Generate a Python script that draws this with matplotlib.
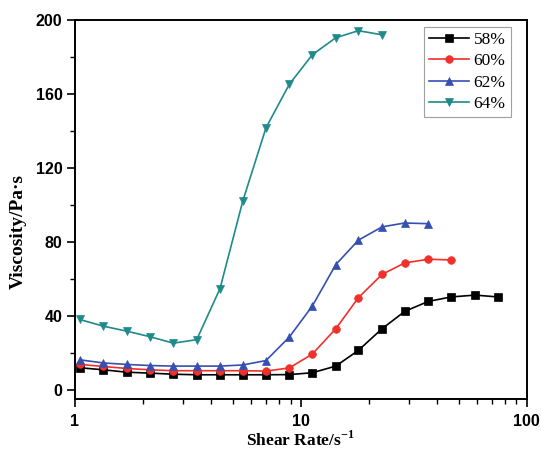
import matplotlib
matplotlib.use("Agg")
import matplotlib.pyplot as plt
from matplotlib.ticker import FixedLocator, MultipleLocator, LogLocator, NullFormatter, FixedFormatter

# Shear rate (1/s) points, shared by all series
shear_rate = [1.05, 1.335, 1.694, 2.148, 2.725, 3.459, 4.386, 5.53, 7.01, 8.89,
              11.24, 14.28, 17.98, 22.88, 28.85, 36.7, 46.3, 59.1, 74.5]

visc_58 = [11.9, 10.8, 9.5, 9.0, 8.4, 8.1, 8.1, 8.1, 8.1, 8.2,
           9.2, 12.8, 21.3, 33.0, 42.4, 47.8, 50.2, 51.2, 50.2]
visc_60 = [13.7, 12.6, 11.5, 10.8, 10.3, 10.3, 10.3, 10.3, 10.1, 11.8,
           19.3, 33.0, 49.8, 62.4, 68.6, 70.6, 70.2]
visc_62 = [16.2, 14.5, 13.7, 13.1, 12.8, 12.8, 12.8, 13.4, 15.8, 28.5,
           45.3, 67.7, 80.9, 88.1, 90.2, 89.8]
visc_64 = [38.0, 34.4, 31.7, 28.7, 25.2, 27.1, 54.7, 102.0, 141.7, 165.2,
           181.2, 190.4, 194.2, 192.0]

labels = ["58%", "60%", "62%", "64%"]
colors = ["#000000", "#f0302a", "#3550b0", "#1f8a8a"]
markers = ["s", "o", "^", "v"]
series = [visc_58, visc_60, visc_62, visc_64]

fig = plt.figure(figsize=(5.41, 4.51), dpi=100)
ax = fig.add_axes([0.1386, 0.1153, 0.9736 - 0.1386, 0.9557 - 0.1153])

for vals, lab, col, mk in zip(series, labels, colors, markers):
    ax.plot(shear_rate[:len(vals)], vals, color=col, marker=mk, markersize=5.5,
            linewidth=1.2, label=lab, markeredgewidth=0.5, markeredgecolor=col)

ax.set_xscale("log")
ax.set_xlim(1, 100)
ax.set_ylim(-5, 200)

ax.xaxis.set_major_locator(FixedLocator([1, 10, 100]))
ax.xaxis.set_major_formatter(FixedFormatter(["1", "10", "100"]))
ax.xaxis.set_minor_locator(LogLocator(base=10, subs=range(2, 10)))
ax.xaxis.set_minor_formatter(NullFormatter())
ax.yaxis.set_major_locator(MultipleLocator(40))
ax.yaxis.set_minor_locator(MultipleLocator(20))

for lbl in ax.get_xticklabels() + ax.get_yticklabels():
    lbl.set_fontfamily("Liberation Sans")
    lbl.set_fontweight("bold")
    lbl.set_fontsize(11.5)

ax.tick_params(which="major", direction="out", length=6, width=1.2,
               top=False, right=False, pad=3)
ax.tick_params(which="minor", direction="out", length=3.5, width=1.0,
               top=False, right=False)
ax.tick_params(axis="x", which="major", pad=5)

for sp in ax.spines.values():
    sp.set_linewidth(1.4)

ax.set_xlabel("Shear Rate/s$^{\\mathregular{-1}}$", fontfamily="Liberation Serif",
              fontweight="bold", fontsize=12.5)
ax.set_ylabel("Viscosity/Pa·s", fontfamily="Liberation Serif",
              fontweight="bold", fontsize=14)
ax.xaxis.set_label_coords(0.498, -0.082)
ax.yaxis.set_label_coords(-0.125, 0.441)
ax.yaxis.label.set_verticalalignment("center")
ax.xaxis.label.set_verticalalignment("top")

leg = ax.legend(loc="upper right", bbox_to_anchor=(0.9646, 0.9823),
                prop=dict(family="Liberation Serif", size=12.5),
                frameon=True, fancybox=False, handlelength=2.3,
                handletextpad=0.25, borderpad=0.3, labelspacing=0.3,
                borderaxespad=0.0)
leg.get_frame().set_edgecolor("#888888")
leg.get_frame().set_linewidth(0.8)

fig.savefig("out.png", dpi=100)
